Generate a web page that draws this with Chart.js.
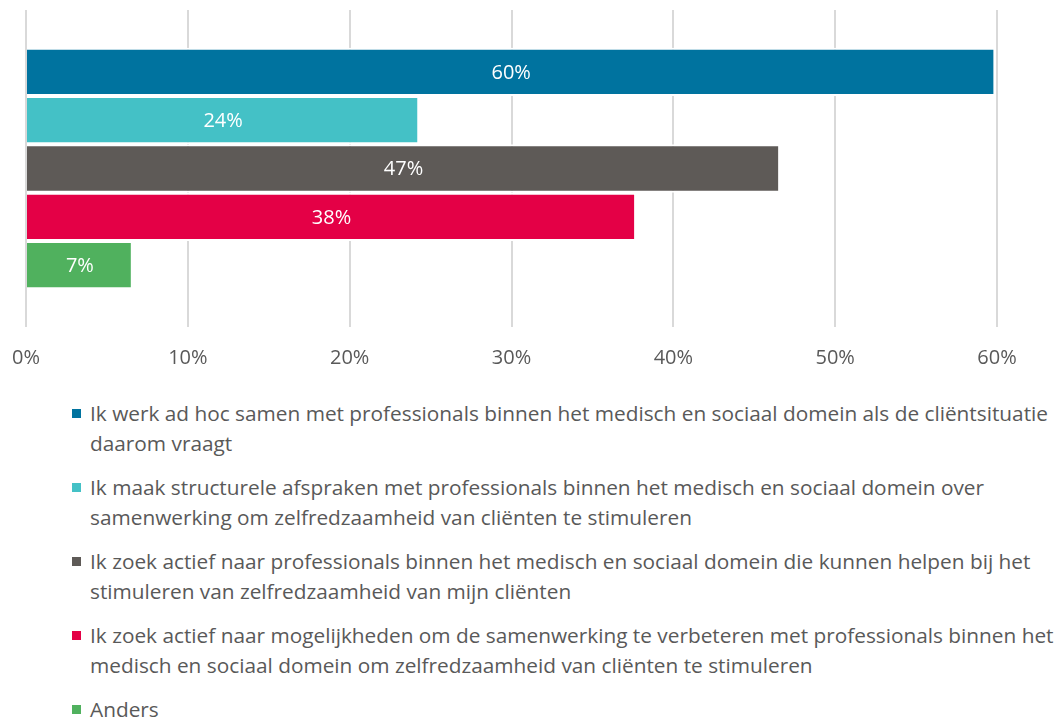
<!DOCTYPE html>
<html>
<head>
<meta charset="utf-8">
<script src="https://cdn.jsdelivr.net/npm/chart.js@4.4.1/dist/chart.umd.min.js"></script>
<style>
  body { margin: 0; background: #fff; font-family: "Open Sans", sans-serif; }
  #wrap { position: relative; width: 1061px; height: 717px; overflow: hidden; }
  #myChart { position: absolute; left: 0; top: 0; }
  #legend { position: absolute; left: 72px; top: 398px; color: #595959; font-size: 20.8px; line-height: 30px; }
  .item { display: flex; align-items: flex-start; margin-bottom: 14px; }
  .sw { width: 9px; height: 9px; margin-top: 11px; margin-right: 9px; flex: none; }
  .txt { white-space: pre; }
</style>
</head>
<body>
<div id="wrap">
  <canvas id="myChart" width="1061" height="385"></canvas>
  <div id="legend"></div>
</div>
<script>
const seriesLabels = [
  'Ik werk ad hoc samen met professionals binnen het medisch en sociaal domein als de cliëntsituatie\ndaarom vraagt',
  'Ik maak structurele afspraken met professionals binnen het medisch en sociaal domein over\nsamenwerking om zelfredzaamheid van cliënten te stimuleren',
  'Ik zoek actief naar professionals binnen het medisch en sociaal domein die kunnen helpen bij het\nstimuleren van zelfredzaamheid van mijn cliënten',
  'Ik zoek actief naar mogelijkheden om de samenwerking te verbeteren met professionals binnen het\nmedisch en sociaal domein om zelfredzaamheid van cliënten te stimuleren',
  'Anders'
];
const seriesValues = [59.9, 24.3, 46.6, 37.7, 6.6];
const seriesColors = ['#00739F', '#44C1C6', '#5E5A57', '#E40046', '#50B15E'];
const tickValues = [0, 10, 20, 30, 40, 50, 60];

// labels inside the bars
const barLabels = {
  id: 'barLabels',
  afterDatasetsDraw(chart) {
    const c = chart.ctx;
    c.save();
    c.fillStyle = '#fff';
    c.font = '20px "Open Sans"';
    c.textAlign = 'center';
    c.textBaseline = 'middle';
    chart.data.datasets.forEach((ds, i) => {
      const bar = chart.getDatasetMeta(i).data[0];
      const x = (bar.x + bar.base) / 2;
      c.fillText(Math.round(ds.data[0]) + '%', x, bar.y + 1);
    });
    c.restore();
  }
};

new Chart(document.getElementById('myChart'), {
  type: 'bar',
  data: {
    labels: [''],
    datasets: seriesLabels.map((l, i) => ({
      label: l,
      data: [seriesValues[i]],
      backgroundColor: seriesColors[i],
      borderColor: '#fff',
      borderWidth: 2,
      borderSkipped: 'start',
      barPercentage: 1,
      categoryPercentage: 0.762
    }))
  },
  options: {
    indexAxis: 'y',
    responsive: false,
    animation: false,
    layout: { padding: { left: 26, right: 64, top: 10, bottom: 16 } },
    plugins: { legend: { display: false }, tooltip: { enabled: false } },
    scales: {
      x: {
        min: 0,
        max: 60,
        afterBuildTicks: axis => { axis.ticks = tickValues.map(v => ({ value: v })); },
        afterFit: axis => {
          axis.height = 42;
          axis.paddingLeft = 0;
          axis.paddingRight = 0;
        },
        grid: { color: '#D9D9D9', lineWidth: 2, drawTicks: false },
        border: { display: false },
        ticks: {
          padding: 19,
          maxRotation: 0,
          color: '#595959',
          font: { family: 'Open Sans', size: 20 },
          callback: v => v + '%'
        }
      },
      y: { display: false }
    }
  },
  plugins: [barLabels]
});

const legend = document.getElementById('legend');
seriesLabels.forEach((l, i) => {
  const item = document.createElement('div');
  item.className = 'item';
  item.innerHTML = '<span class="sw" style="background:' + seriesColors[i] + '"></span><span class="txt"></span>';
  item.querySelector('.txt').textContent = l;
  legend.appendChild(item);
});
</script>
</body>
</html>
